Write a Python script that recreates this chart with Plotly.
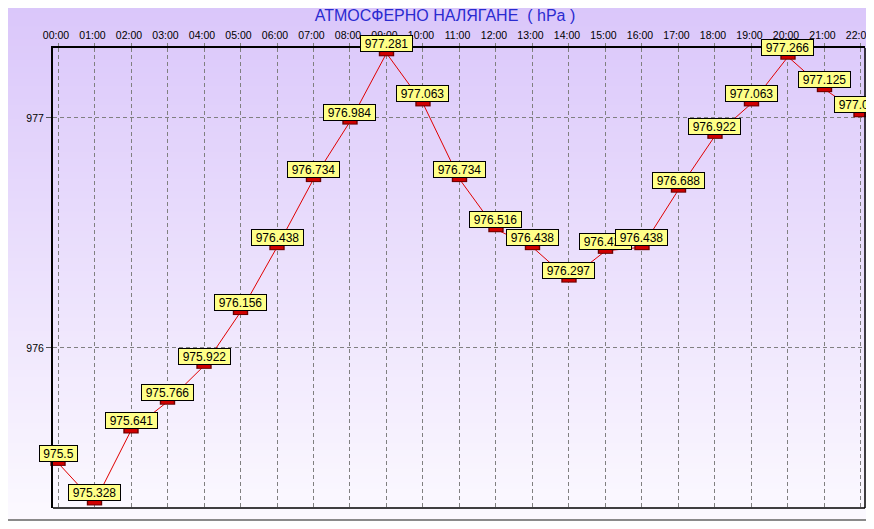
import plotly.graph_objects as go

hours = ["00:00", "01:00", "02:00", "03:00", "04:00", "05:00", "06:00", "07:00",
         "08:00", "09:00", "10:00", "11:00", "12:00", "13:00", "14:00", "15:00",
         "16:00", "17:00", "18:00", "19:00", "20:00", "21:00", "22:00"]
pressure = [975.5, 975.328, 975.641, 975.766, 975.922, 976.156, 976.438, 976.734,
            976.984, 977.281, 977.063, 976.734, 976.516, 976.438, 976.297, 976.422,
            976.438, 976.688, 976.922, 977.063, 977.266, 977.125, 977.016]
y_ticks = [976, 977]
title_text = "АТМОСФЕРНО НАЛЯГАНЕ  ( hPa )"

OFF = 8  # page body margin
W, H = 874 - OFF, 529 - 2 * OFF
L, R, T, B = 53 - OFF, 865 - OFF, 48 - OFF, 508 - OFF
pw, ph = R - L, B - T

def px_x(p):
    return (p - L) / pw

def px_y(p):
    return (B - p) / ph

fig = go.Figure()

fig.add_trace(go.Scatter(
    x=hours, y=pressure, mode="lines",
    line=dict(color="#e00000", width=1),
    hoverinfo="skip", showlegend=False, cliponaxis=False,
))
fig.add_trace(go.Scatter(
    x=hours, y=pressure, mode="markers",
    marker=dict(symbol="line-ew", size=11, line=dict(color="#6a0000", width=6)),
    hoverinfo="skip", showlegend=False, cliponaxis=False,
))
fig.add_trace(go.Scatter(
    x=hours, y=pressure, mode="markers",
    marker=dict(symbol="line-ew", size=9, line=dict(color="#d00000", width=4)),
    hoverinfo="skip", showlegend=False, cliponaxis=False,
))

shapes = []
n = 80
top = (218, 198, 250)
bot = (252, 250, 255)
for i in range(n):
    f = i / (n - 1)
    c = tuple(round(top[k] + (bot[k] - top[k]) * f) for k in range(3))
    y0p = i * 529 / n - OFF
    y1p = (i + 1) * 529 / n + 1 - OFF
    shapes.append(dict(type="rect", xref="paper", yref="paper",
                       x0=px_x(0), x1=px_x(W), y0=px_y(y1p), y1=px_y(y0p),
                       fillcolor="rgb(%d,%d,%d)" % c, line=dict(width=0),
                       layer="below"))
shapes.append(dict(type="line", xref="paper", yref="paper",
                   x0=px_x(0), x1=px_x(W), y0=px_y(H - 1), y1=px_y(H - 1),
                   line=dict(color="#8a8a8a", width=2), layer="above"))
shapes.append(dict(type="line", xref="paper", yref="paper",
                   x0=px_x(W - 1.5), x1=px_x(W - 1.5), y0=px_y(0), y1=px_y(H),
                   line=dict(color="#8a8a8a", width=2), layer="above"))
shapes.append(dict(type="line", xref="paper", yref="paper",
                   x0=0, x1=1, y0=0, y1=0, line=dict(color="black", width=1.5)))
shapes.append(dict(type="line", xref="paper", yref="paper",
                   x0=1, x1=1, y0=0, y1=1, line=dict(color="black", width=1.5)))

annotations = []
for h, v in zip(hours, pressure):
    t = str(v)
    annotations.append(dict(
        x=h, y=v, xref="x", yref="y", text=t, showarrow=False,
        xanchor="center", yanchor="bottom", yshift=1,
        width=round(6.67 * (len(t) - 1) + 10.5), height=15,
        bgcolor="#ffff88", bordercolor="black", borderwidth=1, borderpad=0,
        font=dict(family="Liberation Sans, Arial", size=12, color="black"),
    ))

fig.update_layout(
    width=W, height=H,
    margin=dict(l=L, r=W - R, t=T, b=H - B, pad=0, autoexpand=False),
    paper_bgcolor="white",
    plot_bgcolor="rgba(0,0,0,0)",
    shapes=shapes,
    annotations=annotations,
    title=dict(text=title_text, x=(445 - OFF) / W, xref="container", xanchor="center",
               y=1 - (15 - OFF) / H, yref="container", yanchor="middle",
               font=dict(family="Liberation Sans, Arial", size=16, color="#2a2ad0")),
    font=dict(family="Liberation Sans, Arial", size=10.5, color="black"),
    xaxis=dict(
        type="category", side="top", range=[-0.137, 22.11], automargin=False,
        showgrid=True, gridcolor="#808080", griddash="4px,3px", gridwidth=1,
        showline=True, linecolor="black", linewidth=2,
        ticks="outside", ticklen=3, tickcolor="#808080", ticklabelshift=-2,
        tickfont=dict(family="Liberation Sans, Arial", size=10.5, color="black"),
        zeroline=False, fixedrange=True,
    ),
    yaxis=dict(
        range=[975.304, 977.304], tickvals=y_ticks, ticktext=[str(t) for t in y_ticks],
        automargin=False,
        showgrid=True, gridcolor="#808080", griddash="4px,3px", gridwidth=1,
        showline=True, linecolor="black", linewidth=2,
        ticks="outside", ticklen=5, tickcolor="#555555",
        tickfont=dict(family="Liberation Sans, Arial", size=10.5, color="black"),
        zeroline=False, fixedrange=True,
    ),
)

fig.write_html("out.html")
